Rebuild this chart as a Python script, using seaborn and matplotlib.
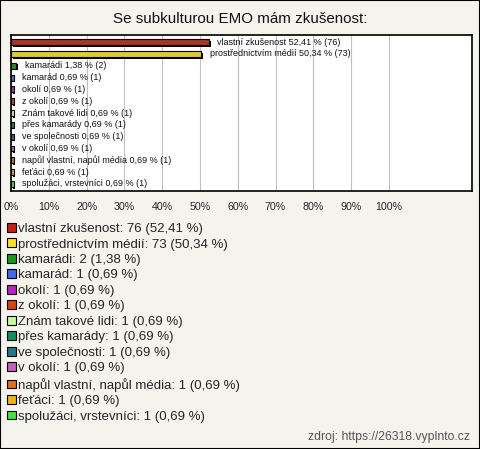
import matplotlib
matplotlib.use("Agg")
import matplotlib.pyplot as plt
import matplotlib.patheffects as pe
from matplotlib.patches import Patch
import seaborn as sns
import pandas as pd

# data
categories = ["vlastní zkušenost", "prostřednictvím médií", "kamarádi", "kamarád", "okolí",
              "z okolí", "Znám takové lidi", "přes kamarády", "ve společnosti", "v okolí",
              "napůl vlastní, napůl média", "feťáci", "spolužáci, vrstevníci"]
counts = [76, 73, 2, 1, 1, 1, 1, 1, 1, 1, 1, 1, 1]
percents = [52.41, 50.34, 1.38, 0.69, 0.69, 0.69, 0.69, 0.69, 0.69, 0.69, 0.69, 0.69, 0.69]
colors = ["#c8200c", "#ffe40c", "#10a010", "#3c6cf0", "#c01cc8", "#e0400c", "#ccf894",
          "#10905c", "#1c7890", "#c060c4", "#e8700c", "#f0b40c", "#38e838"]
xticks = [0, 10, 20, 30, 40, 50, 60, 70, 80, 90, 100]

bg = "#f4f3ec"
sns.set_style("white")
plt.rcParams["font.family"] = ["Liberation Sans", "DejaVu Sans"]

df = pd.DataFrame({"cat": categories, "pct": percents, "n": counts})

fig = plt.figure(figsize=(4.8, 4.49), dpi=100, facecolor=bg)
fig.patches.append(plt.Rectangle((0, 0), 1, 1, transform=fig.transFigure, fill=False,
                                 edgecolor="black", linewidth=1.5))
ax = fig.add_axes([11 / 480, 1 - 191 / 449, 461 / 480, 156 / 449])
ax.set_facecolor("white")

sns.barplot(data=df, y="cat", x="pct", hue="cat", palette=colors, legend=False,
            orient="h", width=0.5, edgecolor="black", linewidth=0.8, ax=ax)
for p in ax.patches:
    p.set_path_effects([pe.SimplePatchShadow(offset=(1.2, -1.2), shadow_rgbFace="black", alpha=1),
                        pe.Normal()])

for i, (c, v, n) in enumerate(zip(categories, percents, counts)):
    ax.text(v + 2.2, i, f"{c} {str(v).replace('.', ',')} % ({n})", va="center", ha="left",
            fontsize=6.5, color="#111111")

ax.set_xlim(0, 122)
ax.set_ylim(len(categories) - 0.4, -0.6)
ax.set_xticks(xticks)
ax.set_xticklabels([f"{t}%" for t in xticks], fontsize=7.7)
ax.tick_params(axis="x", length=0, pad=8)
ax.set_yticks([])
ax.set_xlabel("")
ax.set_ylabel("")
ax.grid(axis="x", color="#c0c0c0", linewidth=0.8)
ax.set_axisbelow(True)
for s in ax.spines.values():
    s.set_color("black")
    s.set_linewidth(1.2)

fig.text(0.5, 1 - 19 / 449, "Se subkulturou EMO mám zkušenost:", ha="center", va="center",
         fontsize=10.9, color="#111111")

handles = [Patch(facecolor=col, edgecolor="black", linewidth=0.8) for col in colors]
labels = [f"{c}: {n} ({str(v).replace('.', ',')} %)" for c, n, v in zip(categories, counts, percents)]
fig.legend(handles, labels, loc="upper left", bbox_to_anchor=(7 / 480, 1 - 223 / 449),
           frameon=False, fontsize=9.5, handlelength=0.65, handleheight=0.65,
           handletextpad=0.2, labelspacing=0.26, borderpad=0, borderaxespad=0)

fig.text(470 / 480, 1 - 437 / 449, "zdroj: https://26318.vyplnto.cz", ha="right", va="center",
         fontsize=8.8, color="#555555")

fig.savefig("out.png", dpi=100, facecolor=bg)
